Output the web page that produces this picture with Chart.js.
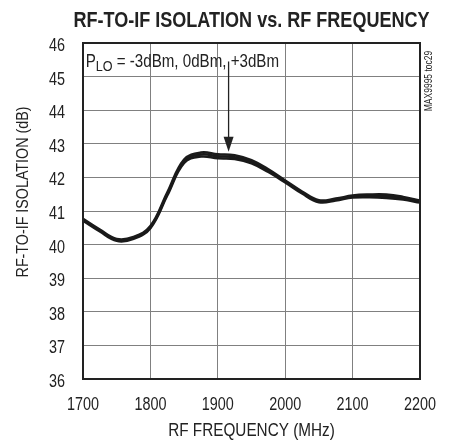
<!DOCTYPE html>
<html>
<head>
<meta charset="utf-8">
<script src="https://cdn.jsdelivr.net/npm/chart.js@4.4.1/dist/chart.umd.min.js"></script>
<style>
    html, body { margin: 0; padding: 0; background: #fff; }
    #wrap { width: 451px; height: 442px; }
</style>
</head>
<body>
<div id="wrap"><canvas id="isoChart" width="451" height="442"></canvas></div>
<script>
// RF frequency (MHz)
const freq = [1700, 1725, 1750, 1775, 1800, 1825, 1850, 1875, 1900, 1925, 1950,
              1975, 2000, 2025, 2050, 2075, 2100, 2125, 2150, 2175, 2200];

// RF-to-IF isolation (dB), one curve per LO power
const isoM3 = [40.77, 40.45, 40.17, 40.23, 40.55, 41.55, 42.53, 42.74, 42.69, 42.66, 42.51,
               42.24, 41.91, 41.58, 41.32, 41.37, 41.46, 41.49, 41.49, 41.42, 41.31];
const iso0  = [40.74, 40.42, 40.14, 40.20, 40.52, 41.50, 42.48, 42.68, 42.63, 42.60, 42.46,
               42.20, 41.88, 41.55, 41.29, 41.34, 41.43, 41.45, 41.44, 41.38, 41.28];
const isoP3 = [40.71, 40.39, 40.11, 40.17, 40.49, 41.46, 42.43, 42.62, 42.57, 42.55, 42.42,
               42.16, 41.85, 41.52, 41.26, 41.31, 41.40, 41.41, 41.39, 41.34, 41.25];

const xTicks = [1700, 1800, 1900, 2000, 2100, 2200];
const yTicks = [36, 37, 38, 39, 40, 41, 42, 43, 44, 45, 46];

// no narrow font installed, so text is squeezed by hand
const FONT = "'Liberation Sans', Arial, sans-serif";
const INK = '#222';

function curve(values) {
    return {
        data: freq.map((f, i) => ({ x: f, y: values[i] })),
        borderColor: '#1a1a1a',
        borderWidth: 2.5,
        pointRadius: 0,
        tension: 0.4,
        fill: false
    };
}

function narrowText(ctx, text, x, y, size, opts) {
    opts = opts || {};
    ctx.save();
    ctx.font = (opts.bold ? 'bold ' : '') + size + 'px ' + FONT;
    ctx.textAlign = opts.align || 'center';
    ctx.textBaseline = 'alphabetic';
    ctx.fillStyle = INK;
    ctx.translate(x, y);
    if (opts.rotate) ctx.rotate(opts.rotate);
    ctx.scale(opts.sx || 0.82, 1);
    ctx.fillText(text, 0, 0);
    const w = ctx.measureText(text).width * (opts.sx || 0.82);
    ctx.restore();
    return w;
}

// titles, tick labels, frame, annotation and arrow
const decor = {
    id: 'decor',
    afterDatasetsDraw(chart) {
        const ctx = chart.ctx;
        const a = chart.chartArea;
        const xs = chart.scales.x, ys = chart.scales.y;
        const midX = (a.left + a.right) / 2;
        ctx.save();

        // frame
        ctx.strokeStyle = INK;
        ctx.lineWidth = 2;
        ctx.strokeRect(a.left, a.top, a.right - a.left, a.bottom - a.top);

        // tick labels
        xTicks.forEach(v => narrowText(ctx, String(v), xs.getPixelForValue(v), 409.5, 18, { sx: 0.8 }));
        yTicks.forEach(v => narrowText(ctx, String(v), 65, ys.getPixelForValue(v) + 8, 18, { sx: 0.8, align: 'right' }));

        // chart title
        narrowText(ctx, 'RF-TO-IF ISOLATION vs. RF FREQUENCY', midX, 27, 22, { bold: true, sx: 0.82 });

        // axis titles
        narrowText(ctx, 'RF FREQUENCY (MHz)', midX, 436, 18, { sx: 0.85 });
        narrowText(ctx, 'RF-TO-IF ISOLATION (dB)', 28, 192, 17, { sx: 0.84, rotate: -Math.PI / 2 });

        // side tag
        narrowText(ctx, 'MAX9995 toc29', 432, 81, 10, { sx: 0.85, rotate: -Math.PI / 2 });

        // P_LO label
        let tx = xs.getPixelForValue(1704);
        const ty = ys.getPixelForValue(45.28);
        tx += narrowText(ctx, 'P', tx, ty, 18, { align: 'left', sx: 0.84 });
        tx += narrowText(ctx, 'LO', tx, ty + 4, 15, { align: 'left', sx: 0.84 });
        narrowText(ctx, ' = -3dBm, 0dBm, +3dBm', tx, ty, 18, { align: 'left', sx: 0.84 });

        // arrow to curves
        const ax = xs.getPixelForValue(1916);
        const y0 = ys.getPixelForValue(45.45);
        const y1 = ys.getPixelForValue(42.76);
        ctx.strokeStyle = INK;
        ctx.fillStyle = INK;
        ctx.lineWidth = 1.3;
        ctx.beginPath();
        ctx.moveTo(ax, y0);
        ctx.lineTo(ax, y1 - 12);
        ctx.stroke();
        ctx.beginPath();
        ctx.moveTo(ax - 5, y1 - 15);
        ctx.lineTo(ax + 5, y1 - 15);
        ctx.lineTo(ax, y1);
        ctx.closePath();
        ctx.fill();

        ctx.restore();
    }
};

const chart = new Chart(document.getElementById('isoChart'), {
    type: 'line',
    data: {
        datasets: [curve(isoM3), curve(iso0), curve(isoP3)]
    },
    options: {
        responsive: false,
        animation: false,
        devicePixelRatio: 1,
        layout: { padding: { top: 43, right: 31, left: 0, bottom: 0 } },
        plugins: {
            legend: { display: false },
            tooltip: { enabled: false }
        },
        scales: {
            x: {
                type: 'linear',
                min: 1700,
                max: 2200,
                afterFit: s => { s.height = 63; },
                afterBuildTicks: s => { s.ticks = xTicks.map(v => ({ value: v })); },
                grid: { color: '#808080', lineWidth: 1, drawTicks: false },
                border: { display: false },
                ticks: { display: false }
            },
            y: {
                type: 'linear',
                min: 36,
                max: 46,
                afterFit: s => { s.width = 83; },
                afterBuildTicks: s => { s.ticks = yTicks.map(v => ({ value: v })); },
                grid: { color: '#808080', lineWidth: 1, drawTicks: false },
                border: { display: false },
                ticks: { display: false }
            }
        }
    },
    plugins: [decor]
});
</script>
</body>
</html>
